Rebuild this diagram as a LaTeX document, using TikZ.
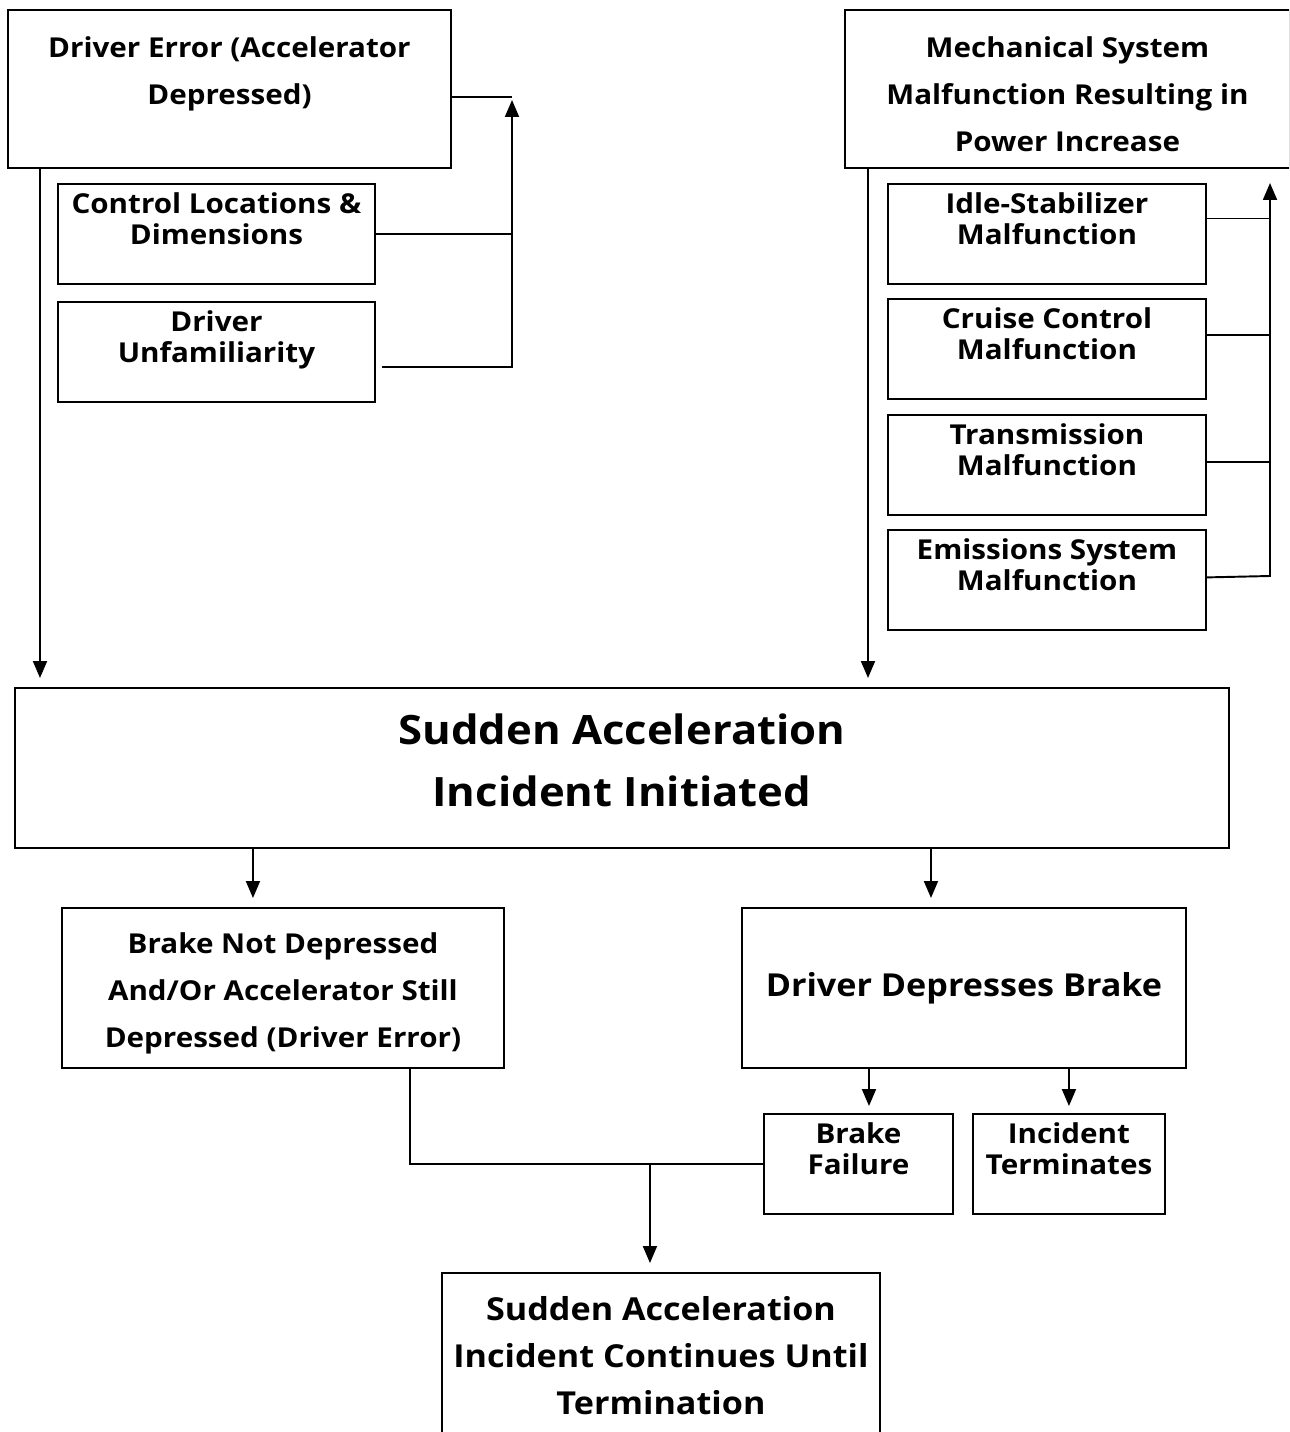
\documentclass[tikz,border=0pt]{standalone}
\usepackage{fontspec}
\setmainfont{Open Sans}[FakeStretch=1.08]
\usetikzlibrary{arrows.meta, positioning}
\newcommand{\normtxt}{\fontsize{15.6}{26.7}\selectfont\bfseries}
\newcommand{\subtxt}{\fontsize{15.6}{17.6}\selectfont\bfseries}
\newcommand{\midtxt}{\fontsize{18}{26.7}\selectfont\bfseries}
\newcommand{\bigtxt}{\fontsize{23}{35.2}\selectfont\bfseries}
\newcommand{\topgap}{\rule{0pt}{18pt}}
\tikzset{
    box/.style = {draw, rectangle, line width=1.2pt, align=center, inner sep=2pt, outer sep=0pt, font=\normtxt},
    subbox/.style = {box, font=\subtxt, minimum width=6.36cm, minimum height=2cm},
    link/.style = {line width=1.1pt},
    flow/.style = {link, -{Triangle[width=0.28cm, length=0.34cm]}}
}

\begin{document}
\begin{tikzpicture}[x=0.02cm, y=-0.02cm]
  \useasboundingbox (0,0) rectangle (1289,1432);
  \clip (0,0) rectangle (1289,1432);

  % causes, left
  \node[box, anchor=north west, minimum width=8.86cm, minimum height=3.16cm] (DE) at (8,10) {\topgap Driver Error (Accelerator\\Depressed)\\~};
  \node[subbox, anchor=north west, minimum width=6.34cm] (CL) at (58,184) {Control Locations \&\\Dimensions\\~};
  \node[subbox, below=0.36cm of CL, minimum width=6.34cm] (DU) {Driver\\Unfamiliarity\\~};

  % causes, right
  \node[box, anchor=north west, minimum width=8.9cm, minimum height=3.16cm] (MS) at (845,10) {\topgap Mechanical System\\Malfunction Resulting in\\Power Increase};
  \node[subbox, anchor=north west] (IS) at (888,184) {Idle-Stabilizer\\Malfunction\\~};
  \node[subbox, below=0.3cm of IS] (CC) {Cruise Control\\Malfunction\\~};
  \node[subbox, below=0.32cm of CC] (TR) {Transmission\\Malfunction\\~};
  \node[subbox, below=0.3cm of TR] (EM) {Emissions System\\Malfunction\\~};

  % incident
  \node[box, anchor=north west, font=\bigtxt, minimum width=24.28cm, minimum height=3.2cm] (SA) at (15,688) {Sudden Acceleration\\Incident Initiated\\[-26pt]~};
  \node[box, anchor=north west, minimum width=8.84cm, minimum height=3.2cm] (BN) at (62,908) {\topgap Brake Not Depressed\\And/Or Accelerator Still\\Depressed (Driver Error)};
  \node[box, anchor=north west, font=\midtxt, minimum width=8.88cm, minimum height=3.2cm] (DB) at (742,908) {Driver Depresses Brake};
  \node[subbox, anchor=north west, minimum width=3.78cm] (BF) at (764,1114) {Brake\\Failure\\~};
  \node[subbox, right=0.4cm of BF, minimum width=3.84cm] (IT) {Incident\\Terminates\\~};
  \node[box, anchor=north west, font=\midtxt, minimum width=8.76cm, minimum height=3.3cm] (SC) at (442,1273) {Sudden Acceleration\\Incident Continues Until\\Termination};

  % feeds into driver error
  \coordinate (jDE) at (512,97);
  \coordinate (jDU) at (512,367);
  \draw[link] (DE.east |- jDE) -- (jDE);
  \draw[link] (CL.east) -- (CL.east -| jDE);
  \draw[flow] ([xshift=0.14cm]DU.east |- jDU) -- (jDU) -- ([yshift=-0.06cm]jDE);

  % feeds into mechanical malfunction
  \coordinate (jMS) at (1270,183);
  \coordinate (jEM) at (1270,576);
  \draw[flow] ([yshift=0.05cm]EM.east) -- (jEM) -- (jMS);
  \foreach \b/\dy in {IS/0.31cm, CC/0.28cm, TR/0.05cm}
    \draw[link] ([yshift=\dy]\b.east) -- ([yshift=\dy]\b.east -| jMS);

  % into the incident
  \draw[flow, shorten >=0.2cm] ([xshift=0.64cm]DE.south west) -- ([xshift=0.64cm]DE.south west |- SA.north);
  \draw[flow, shorten >=0.2cm] ([xshift=0.46cm]MS.south west) -- ([xshift=0.46cm]MS.south west |- SA.north);

  \coordinate (aBN) at ([xshift=-0.6cm]BN.north);
  \coordinate (aDB) at ([xshift=-0.66cm]DB.north);
  \draw[flow, shorten >=0.2cm] (SA.south -| aBN) -- (aBN);
  \draw[flow, shorten >=0.2cm] (SA.south -| aDB) -- (aDB);

  \coordinate (aBF) at ([xshift=0.21cm]BF.north);
  \draw[flow, shorten >=0.16cm] (DB.south -| aBF) -- (aBF);
  \draw[flow, shorten >=0.16cm] (DB.south -| IT.north) -- (IT.north);

  % continuation
  \coordinate (mBN) at ([xshift=2.54cm]BN.south);
  \coordinate (aSC) at ([xshift=-0.22cm]SC.north);
  \draw[link] (mBN) |- (BF.west);
  \draw[flow, shorten >=0.2cm] (aSC |- BF.west) -- (aSC);
\end{tikzpicture}
\end{document}
